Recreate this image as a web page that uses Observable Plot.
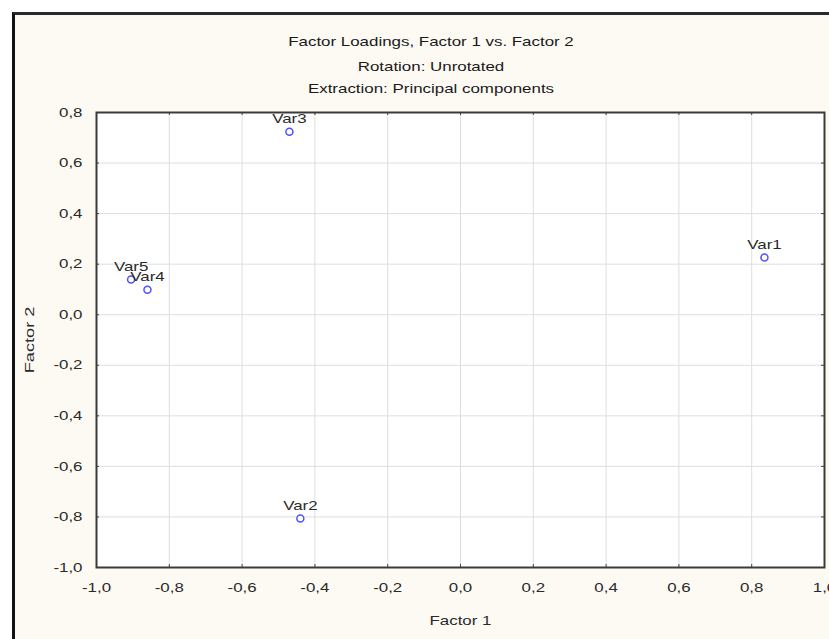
<!DOCTYPE html>
<html>
<head>
<meta charset="utf-8">
<script src="https://cdn.jsdelivr.net/npm/d3@7"></script>
<script src="https://cdn.jsdelivr.net/npm/@observablehq/plot@0.6"></script>
<style>
  html, body { margin: 0; padding: 0; background: #ffffff; }
  #wrap { position: relative; width: 829px; height: 639px; overflow: hidden; font-family: "Liberation Sans", Arial, sans-serif; }
  #panel { position: absolute; left: 12px; top: 12px; width: 830px; height: 624px; background: #fdfaf4; border-left: 3px solid #111; border-top: 3px solid #2a2a2a; border-bottom: 1px solid #d8d8d8; }
  .t { position: absolute; left: 231px; width: 400px; text-align: center; color: #1a1a1a; font-size: 13px; white-space: nowrap; transform: scaleX(1.3); transform-origin: 50% 50%; }
  #chart { position: absolute; left: 0; top: 0; }
</style>
</head>
<body>
<div id="wrap">
  <div id="panel"></div>
  <div class="t" style="top:34px">Factor Loadings, Factor 1 vs. Factor 2</div>
  <div class="t" style="top:59px">Rotation: Unrotated</div>
  <div class="t" style="top:81px">Extraction: Principal components</div>
  <div id="chart"></div>
</div>
<script>
const names = ["Var1", "Var2", "Var3", "Var4", "Var5"];
const factor1 = [0.835, -0.44, -0.47, -0.86, -0.905];
const factor2 = [0.226, -0.806, 0.724, 0.099, 0.139];
const xTicks = [-1.0, -0.8, -0.6, -0.4, -0.2, 0.0, 0.2, 0.4, 0.6, 0.8, 1.0];
const yTicks = [-1.0, -0.8, -0.6, -0.4, -0.2, 0.0, 0.2, 0.4, 0.6, 0.8];

const points = names.map((n, i) => ({name: n, f1: factor1[i], f2: factor2[i]}));
const fmt = d => d3.format(".1f")(d).replace(".", ",").replace("−", "-");

const W = 829, H = 639, mL = 96, mR = 5, mT = 112, mB = 72;
const pw = W - mL - mR, ph = H - mT - mB, tk = 3;

const chart = Plot.plot({
  width: W, height: H,
  marginLeft: mL, marginRight: mR, marginTop: mT, marginBottom: mB,
  style: {background: "transparent", fontFamily: "'Liberation Sans', Arial, sans-serif", fontSize: "13px", color: "#2a2a2a"},
  x: {domain: [-1, 1], label: null},
  y: {domain: [-1, 0.8], label: null},
  marks: [
    Plot.frame({fill: "white", stroke: null}),
    Plot.gridX(xTicks, {stroke: "#dedede", strokeOpacity: 1}),
    Plot.gridY(yTicks, {stroke: "#dedede", strokeOpacity: 1}),
    Plot.tickX(xTicks, {x: d => d, insetTop: ph - tk, stroke: "#444"}),
    Plot.tickX(xTicks, {x: d => d, insetBottom: ph - tk, stroke: "#444"}),
    Plot.tickY(yTicks, {y: d => d, insetRight: pw - tk, stroke: "#444"}),
    Plot.tickY(yTicks, {y: d => d, insetLeft: pw - tk, stroke: "#444"}),
    Plot.frame({stroke: "#3a3a3a", strokeWidth: 2}),
    Plot.axisX({ticks: xTicks, tickFormat: fmt, tickSize: 0, tickPadding: 15, fill: "#2a2a2a",
      label: "Factor 1", labelAnchor: "center", labelArrow: "none", labelOffset: 57}),
    Plot.axisY({ticks: yTicks, tickFormat: fmt, tickSize: 0, tickPadding: 14, fill: "#2a2a2a",
      label: "Factor 2", labelAnchor: "center", labelArrow: "none", labelOffset: 72, fontSize: 13}),
    Plot.dot(points, {x: "f1", y: "f2", r: 3.5, stroke: "#5050ff", strokeWidth: 1.5, fill: "white"}),
    Plot.text(points, {x: "f1", y: "f2", text: "name", dy: -13, fill: "#2a2a2a", fontSize: 13})
  ]
});

// widen text glyphs along their baseline around the anchor point (reference uses a stretched font)
d3.select(chart).selectAll("text").each(function() {
  const el = d3.select(this);
  const t = el.attr("transform");
  if (t && t.includes("rotate")) {
    el.attr("transform", t + " scale(1.4,1)");
  } else if (t) {
    el.attr("transform", t + " scale(1.3,1)");
  } else {
    const x = +el.attr("x") || 0, y = +el.attr("y") || 0;
    el.attr("transform", `translate(${x},${y}) scale(1.3,1) translate(${-x},${-y})`);
  }
});

document.getElementById("chart").appendChild(chart);
</script>
</body>
</html>
